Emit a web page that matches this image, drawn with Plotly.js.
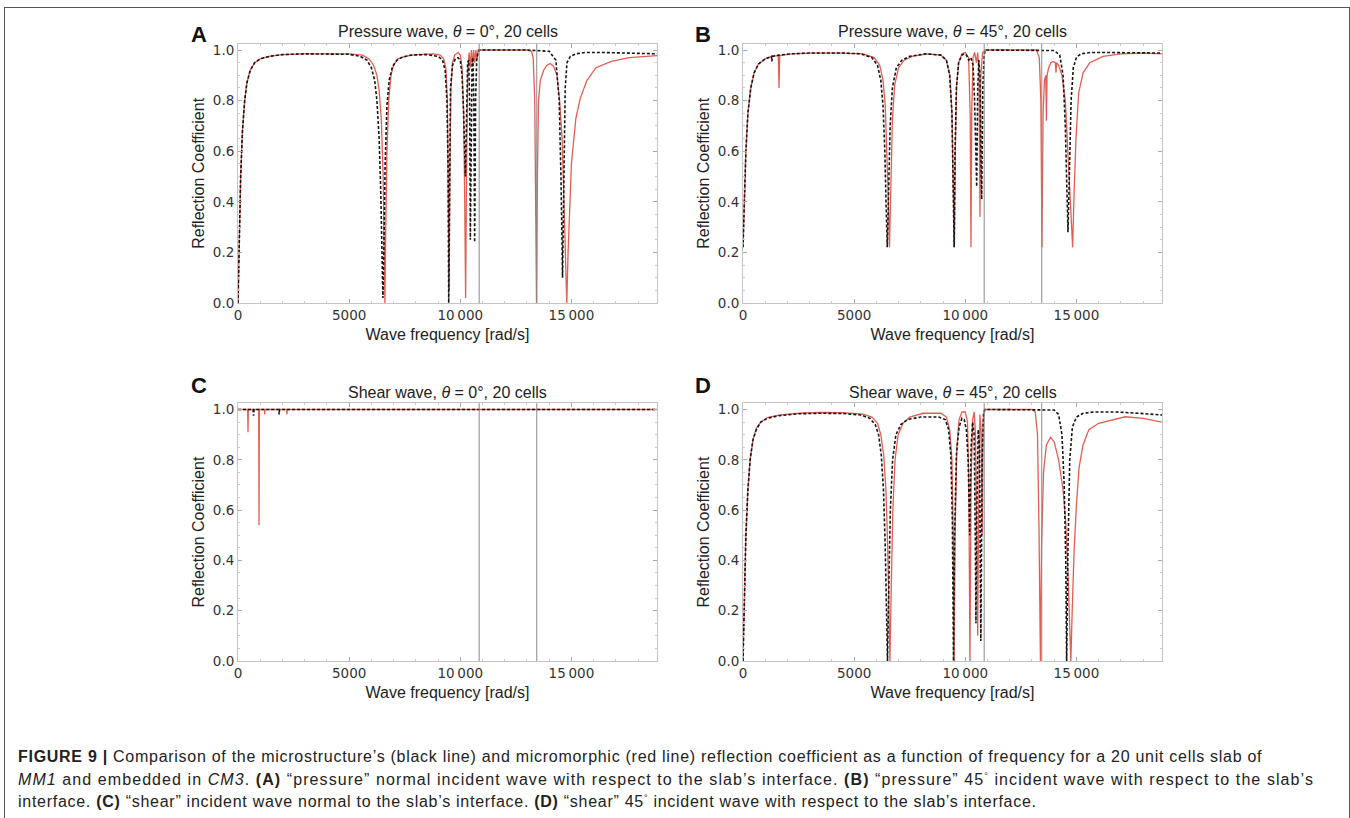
<!DOCTYPE html>
<html>
<head>
<meta charset="utf-8">
<script src="https://cdn.plot.ly/plotly-3.0.1.min.js"></script>
<style>
  html, body { margin: 0; padding: 0; background: #ffffff; }
  #wrap { position: relative; width: 1350px; height: 818px; overflow: hidden; }
  #chart { position: absolute; left: 0; top: 0; width: 1350px; height: 818px; }
  #frame { position: absolute; left: 4px; top: 7px; width: 1344px; height: 840px;
           border: 1px solid #555; border-bottom: none; pointer-events: none; }
  #caption { position: absolute; left: 18px; top: 748px; width: 1325px; white-space: nowrap;
             font-family: "Liberation Sans", Arial, Helvetica, sans-serif; font-size: 16px;
             letter-spacing: 0.72px; line-height: 18.3px; color: #222; }
  #caption .l2 { letter-spacing: 1.08px; }
</style>
</head>
<body>
<div id="wrap">
  <div id="chart"></div>
  <div id="frame"></div>
  <div id="caption"><span class="l1"><b>FIGURE 9 |</b> Comparison of the microstructure’s (black line) and micromorphic (red line) reflection coefficient as a function of frequency for a 20 unit cells slab of</span><br><span class="l2"><i>MM1</i> and embedded in <i>CM3</i>. <b>(A)</b> “pressure” normal incident wave with respect to the slab’s interface. <b>(B)</b> “pressure” 45<sup style="font-size:9px">°</sup> incident wave with respect to the slab’s</span><br><span class="l3">interface. <b>(C)</b> “shear” incident wave normal to the slab’s interface. <b>(D)</b> “shear” 45<sup style="font-size:9px">°</sup> incident wave with respect to the slab’s interface.</span></div>
</div>
<script>
// ---- data: [frequency rad/s, reflection coefficient] ----
const panelTitles = ["Pressure wave, <i>θ</i> = 0°, 20 cells", "Pressure wave, <i>θ</i> = 45°, 20 cells",
                     "Shear wave, <i>θ</i> = 0°, 20 cells", "Shear wave, <i>θ</i> = 45°, 20 cells"];
const panelLetters = ["A", "B", "C", "D"];
const xTickVals = [0, 5000, 10000, 15000];
const xTickText = ["0", "5000", "10\u2009000", "15\u2009000"];
const yTickVals = [0, 0.2, 0.4, 0.6, 0.8, 1.0];
const yTickText = ["0.0", "0.2", "0.4", "0.6", "0.8", "1.0"];
const vLines = [10850, 13440];

const A_black = [[0,0],[50,0.25],[120,0.5],[200,0.68],[300,0.8],[400,0.87],[550,0.92],[750,0.95],[1000,0.965],[1400,0.975],[2000,0.982],[3000,0.985],[4000,0.985],[5000,0.983],[5500,0.975],[5800,0.96],[6000,0.93],[6150,0.88],[6250,0.8],[6350,0.65],[6420,0.45],[6480,0.2],[6520,0.02],[6560,0.2],[6620,0.55],[6700,0.78],[6800,0.88],[6950,0.935],[7150,0.96],[7400,0.972],[7800,0.98],[8500,0.982],[9000,0.975],[9200,0.96],[9320,0.92],[9400,0.8],[9450,0.55],[9480,0.0],[9510,0.5],[9560,0.85],[9650,0.94],[9780,0.965],[9900,0.97],[10000,0.96],[10080,0.9],[10150,0.75],[10229,0.5],[10280,0.8],[10330,0.95],[10380,0.96],[10420,0.8],[10453,0.25],[10490,0.7],[10530,0.95],[10570,0.97],[10610,0.8],[10647,0.24],[10690,0.8],[10740,0.97],[10800,0.99],[10850,1.0],[12000,1.0],[13000,1.0],[14000,0.995],[14300,0.96],[14450,0.8],[14530,0.5],[14600,0.1],[14660,0.5],[14720,0.85],[14800,0.95],[14950,0.975],[15200,0.985],[15600,0.99],[16500,0.99],[17500,0.988],[18850,0.985]];
const A_red = [[0,0],[50,0.25],[120,0.5],[200,0.68],[300,0.8],[400,0.87],[550,0.92],[750,0.95],[1000,0.965],[1400,0.975],[2000,0.982],[3000,0.985],[4000,0.985],[5000,0.985],[5600,0.98],[5900,0.965],[6100,0.94],[6250,0.9],[6350,0.84],[6450,0.72],[6530,0.5],[6580,0.25],[6610,0.0],[6640,0.25],[6700,0.6],[6780,0.8],[6880,0.9],[7000,0.94],[7200,0.965],[7500,0.975],[8000,0.982],[8800,0.985],[9100,0.98],[9250,0.965],[9350,0.93],[9420,0.8],[9470,0.45],[9500,0.05],[9530,0.5],[9580,0.85],[9650,0.95],[9750,0.98],[9900,0.99],[10000,0.98],[10080,0.93],[10150,0.75],[10200,0.4],[10240,0.02],[10280,0.5],[10340,0.93],[10400,0.99],[10450,0.93],[10500,1.0],[10550,0.94],[10600,1.0],[10650,0.95],[10700,1.0],[10750,0.96],[10800,1.0],[10850,1.0],[12000,1.0],[13000,1.0],[13200,0.995],[13280,0.97],[13350,0.8],[13400,0.4],[13430,0.0],[13470,0.5],[13520,0.8],[13600,0.88],[13750,0.92],[13900,0.94],[14050,0.947],[14200,0.935],[14350,0.9],[14470,0.8],[14580,0.65],[14650,0.45],[14720,0.2],[14760,0.02],[14790,0.0],[14850,0.2],[14920,0.4],[15000,0.55],[15200,0.73],[15400,0.81],[15700,0.88],[16100,0.93],[16800,0.955],[17600,0.97],[18850,0.978]];

const B_black = [[0,0.22],[60,0.4],[130,0.6],[220,0.75],[350,0.85],[500,0.91],[700,0.945],[1000,0.965],[1200,0.972],[1280,0.975],[1300,0.955],[1320,0.975],[1600,0.98],[2200,0.985],[3000,0.988],[4500,0.988],[5300,0.985],[5800,0.97],[6050,0.94],[6200,0.88],[6300,0.78],[6380,0.6],[6440,0.38],[6490,0.22],[6540,0.4],[6620,0.7],[6720,0.85],[6900,0.93],[7150,0.96],[7500,0.975],[8200,0.985],[8900,0.98],[9150,0.96],[9300,0.9],[9400,0.75],[9460,0.5],[9500,0.22],[9540,0.6],[9600,0.85],[9700,0.95],[9850,0.98],[9950,0.985],[10050,0.98],[10150,0.96],[10250,0.97],[10350,0.94],[10420,0.8],[10513,0.46],[10560,0.85],[10610,0.96],[10660,0.9],[10700,0.6],[10737,0.41],[10790,0.85],[10850,0.98],[10900,1.0],[12000,1.0],[13500,1.0],[14000,0.998],[14250,0.98],[14400,0.9],[14500,0.7],[14570,0.45],[14620,0.28],[14680,0.5],[14760,0.8],[14860,0.93],[15000,0.97],[15200,0.985],[15600,0.99],[16500,0.99],[17500,0.99],[18850,0.988]];
const B_red = [[0,0.22],[60,0.4],[130,0.6],[220,0.75],[350,0.85],[500,0.91],[700,0.945],[1000,0.965],[1300,0.975],[1590,0.978],[1620,0.85],[1650,0.978],[2200,0.985],[3000,0.988],[4500,0.988],[5400,0.985],[5900,0.97],[6150,0.94],[6300,0.88],[6400,0.78],[6480,0.6],[6540,0.4],[6590,0.22],[6640,0.45],[6720,0.72],[6820,0.86],[7000,0.93],[7250,0.96],[7600,0.975],[8300,0.985],[8900,0.98],[9150,0.96],[9300,0.9],[9400,0.75],[9460,0.5],[9510,0.22],[9550,0.6],[9610,0.86],[9700,0.95],[9850,0.985],[10000,0.99],[10150,0.97],[10220,0.75],[10256,0.22],[10290,0.75],[10350,0.97],[10420,0.99],[10500,0.95],[10560,0.99],[10620,0.9],[10661,0.34],[10700,0.9],[10780,0.99],[10900,1.0],[12000,1.0],[13200,1.0],[13330,0.97],[13400,0.8],[13450,0.22],[13500,0.75],[13560,0.88],[13620,0.9],[13650,0.72],[13680,0.9],[13750,0.93],[13850,0.95],[13950,0.955],[14050,0.95],[14080,0.91],[14110,0.95],[14200,0.94],[14350,0.9],[14500,0.8],[14620,0.6],[14720,0.4],[14830,0.22],[14900,0.45],[14980,0.65],[15100,0.83],[15300,0.91],[15600,0.95],[16200,0.975],[17000,0.985],[18000,0.988],[18850,0.985]];

const C_black = [[0,1.0],[680,1.0],[700,0.975],[720,1.0],[1830,1.0],[1850,0.98],[1870,1.0],[18850,1.0]];
const C_red = [[0,1.0],[435,1.0],[450,0.91],[465,1.0],[930,1.0],[945,0.54],[960,1.0],[1185,1.0],[1200,0.98],[1215,1.0],[2185,1.0],[2200,0.98],[2215,1.0],[18850,1.0]];

const D_black = [[0,0],[60,0.25],[130,0.5],[220,0.68],[320,0.8],[450,0.88],[600,0.92],[800,0.95],[1100,0.965],[1600,0.975],[2500,0.983],[3500,0.985],[4500,0.984],[5300,0.978],[5700,0.965],[5950,0.94],[6100,0.9],[6220,0.82],[6320,0.68],[6400,0.45],[6460,0.2],[6500,0.0],[6550,0.25],[6630,0.6],[6730,0.8],[6880,0.9],[7100,0.94],[7400,0.96],[8000,0.97],[8800,0.97],[9100,0.96],[9250,0.92],[9350,0.82],[9420,0.55],[9470,0.0],[9520,0.5],[9600,0.82],[9720,0.93],[9850,0.965],[9950,0.96],[10050,0.92],[10130,0.8],[10200,0.5],[10260,0.85],[10330,0.95],[10400,0.9],[10450,0.5],[10480,0.15],[10520,0.6],[10580,0.92],[10640,0.85],[10700,0.08],[10760,0.8],[10820,0.98],[10880,1.0],[12000,1.0],[13500,1.0],[14000,0.998],[14200,0.98],[14350,0.9],[14450,0.7],[14520,0.4],[14560,0.0],[14610,0.4],[14700,0.8],[14820,0.93],[15000,0.97],[15300,0.985],[15800,0.99],[16800,0.99],[17800,0.985],[18850,0.978]];
const D_red = [[0,0],[60,0.25],[130,0.5],[220,0.68],[320,0.8],[450,0.88],[600,0.925],[800,0.95],[1100,0.968],[1600,0.978],[2500,0.985],[3500,0.988],[4500,0.987],[5400,0.982],[5800,0.97],[6050,0.945],[6200,0.9],[6330,0.82],[6430,0.68],[6510,0.45],[6570,0.2],[6610,0.0],[6660,0.25],[6740,0.6],[6840,0.8],[6980,0.9],[7200,0.945],[7500,0.97],[8100,0.985],[8900,0.985],[9150,0.97],[9300,0.92],[9400,0.8],[9460,0.5],[9500,0.0],[9540,0.5],[9620,0.85],[9720,0.96],[9850,0.99],[10000,0.99],[10100,0.95],[10160,0.7],[10210,0.0],[10260,0.7],[10330,0.96],[10400,0.99],[10460,0.9],[10520,0.3],[10560,0.1],[10600,0.6],[10660,0.98],[10720,0.9],[10760,0.5],[10800,0.95],[10860,1.0],[12000,1.0],[13000,1.0],[13150,0.99],[13250,0.9],[13320,0.5],[13380,0.0],[13430,0.45],[13520,0.75],[13650,0.86],[13840,0.89],[14000,0.87],[14200,0.8],[14400,0.68],[14520,0.55],[14620,0.35],[14700,0.1],[14750,0.0],[14810,0.2],[14900,0.45],[15000,0.62],[15120,0.77],[15300,0.86],[15560,0.92],[16000,0.945],[16600,0.958],[17200,0.971],[18000,0.965],[18850,0.95]];

const blackSeries = [A_black, B_black, C_black, D_black];
const redSeries = [A_red, B_red, C_red, D_red];

// ---- layout geometry ----
const W = 1350, H = 818;
const colX = [[238, 657], [743, 1162]];
const rowY = [[43.7, 303], [403.2, 661]];
const titleY = [32, 392];
const letterY = [35, 385];
const letterX = [199, 703];

const tickFont = {family: "DejaVu Sans, Verdana, sans-serif", size: 13.5, color: "#333"};
const labFont = {family: "Liberation Sans, Arial, Helvetica, sans-serif", size: 16, color: "#222"};

const traces = [];
const layout = {
  width: W, height: H, margin: {l: 0, r: 0, t: 0, b: 0},
  paper_bgcolor: "rgba(0,0,0,0)", plot_bgcolor: "#ffffff",
  showlegend: false, annotations: [], shapes: []
};

for (let p = 0; p < 4; p++) {
  const col = p % 2, row = Math.floor(p / 2);
  const n = p + 1;
  const xa = n === 1 ? "x" : "x" + n, ya = n === 1 ? "y" : "y" + n;
  const xk = n === 1 ? "xaxis" : "xaxis" + n, yk = n === 1 ? "yaxis" : "yaxis" + n;
  layout[xk] = {
    domain: [colX[col][0] / W, colX[col][1] / W], anchor: ya,
    range: [0, 18850], tickvals: xTickVals, ticktext: xTickText,
    ticks: "inside", ticklen: 4, tickcolor: "#aaa", tickwidth: 1,
    minor: {ticks: "inside", ticklen: 2, dtick: 1000, tickcolor: "#ccc"},
    showline: true, linecolor: "#c4c4c4", linewidth: 1, mirror: "ticks",
    showgrid: false, zeroline: false, tickfont: tickFont,
    title: {text: "Wave frequency [rad/s]", font: labFont, standoff: 6}
  };
  layout[yk] = {
    domain: [(H - rowY[row][1]) / H, (H - rowY[row][0]) / H], anchor: xa,
    range: [0, 1.025], tickvals: yTickVals, ticktext: yTickText,
    ticks: "inside", ticklen: 4, tickcolor: "#aaa", tickwidth: 1,
    minor: {ticks: "inside", ticklen: 2, dtick: 0.05, tickcolor: "#ccc"},
    showline: true, linecolor: "#c4c4c4", linewidth: 1, mirror: "ticks",
    showgrid: false, zeroline: false, tickfont: tickFont,
    title: {text: "Reflection Coefficient", font: labFont, standoff: 4}
  };
  const r = redSeries[p], b = blackSeries[p];
  traces.push({type: "scatter", mode: "lines", xaxis: xa, yaxis: ya,
    x: r.map(d => d[0]), y: r.map(d => d[1]),
    line: {color: "#e35e52", width: 1.3}, name: "micromorphic"});
  traces.push({type: "scatter", mode: "lines", xaxis: xa, yaxis: ya,
    x: b.map(d => d[0]), y: b.map(d => d[1]),
    line: {color: "#151515", width: 1.6, dash: "3px,2px"}, name: "microstructure"});
  vLines.forEach(v => layout.shapes.push({type: "line", xref: xa, yref: ya + " domain",
    x0: v, x1: v, y0: 0, y1: 1, line: {color: "#8a8a8a", width: 1}}));
  layout.annotations.push({xref: "paper", yref: "paper",
    x: (colX[col][0] + colX[col][1]) / 2 / W, y: (H - titleY[row]) / H,
    xanchor: "center", yanchor: "middle", showarrow: false,
    text: panelTitles[p], font: labFont});
  layout.annotations.push({xref: "paper", yref: "paper",
    x: letterX[col] / W, y: (H - letterY[row]) / H,
    xanchor: "center", yanchor: "middle", showarrow: false,
    text: "<b>" + panelLetters[p] + "</b>",
    font: {family: "Liberation Sans, Arial, Helvetica, sans-serif", size: 22, color: "#111"}});
}

Plotly.newPlot("chart", traces, layout, {staticPlot: true, displayModeBar: false});
</script>
</body>
</html>
